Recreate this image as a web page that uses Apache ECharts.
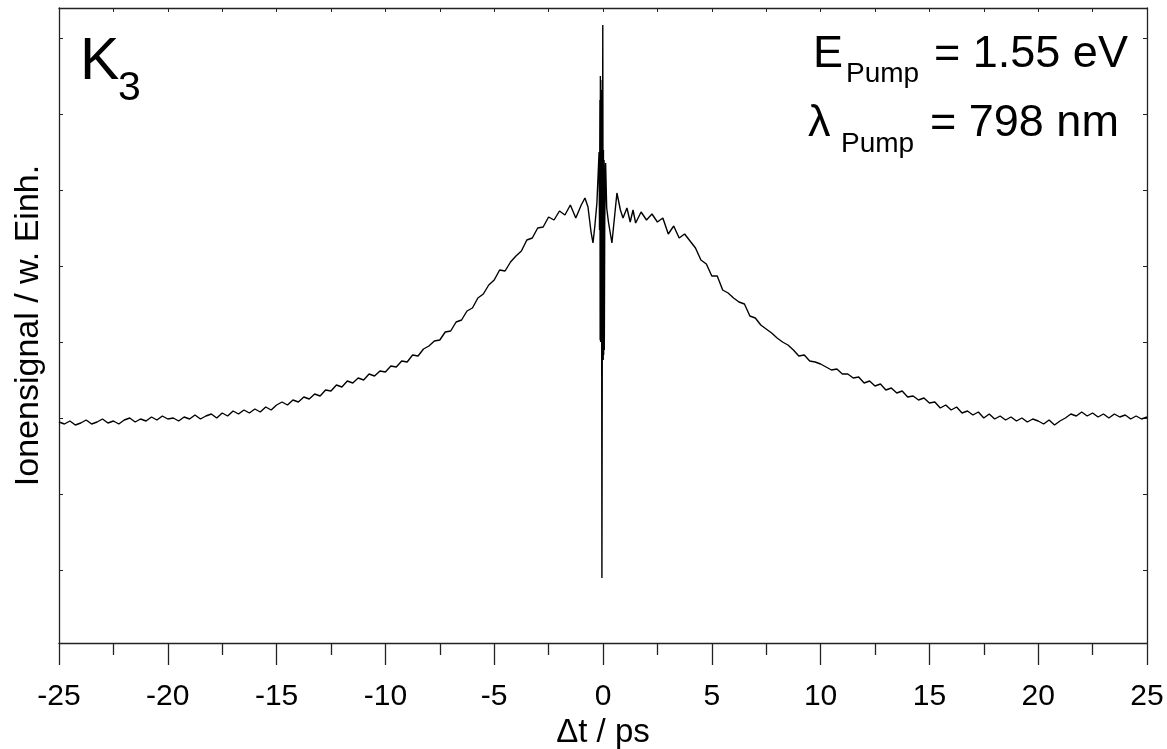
<!DOCTYPE html>
<html>
<head>
<meta charset="utf-8">
<script src="https://cdn.jsdelivr.net/npm/echarts@6/dist/echarts.min.js"></script>
<style>
  html, body { margin: 0; padding: 0; background: #fff; }
  #main { width: 1167px; height: 749px; }
</style>
</head>
<body>
<div id="main"></div>
<script>
// delay time (ps) / ion signal (arb. units)
const leftWing = [
  [-25, 221], [-24.75, 219], [-24.5, 222], [-24.25, 218], [-24, 220], [-23.75, 223], [-23.5, 219], [-23.25, 221],
  [-23, 224], [-22.75, 220], [-22.5, 222], [-22.25, 219], [-22, 223], [-21.75, 225], [-21.5, 221], [-21.25, 224],
  [-21, 222], [-20.75, 226], [-20.5, 223], [-20.25, 227], [-20, 224], [-19.75, 225], [-19.5, 222], [-19.25, 226],
  [-19, 224], [-18.75, 228], [-18.5, 224], [-18.25, 227], [-18, 229], [-17.75, 225], [-17.5, 230], [-17.25, 227],
  [-17, 232], [-16.75, 229], [-16.5, 233], [-16.25, 230], [-16, 234], [-15.75, 231], [-15.5, 236], [-15.25, 233],
  [-15, 238], [-14.75, 241], [-14.5, 238], [-14.25, 243], [-14, 241], [-13.75, 246], [-13.5, 244], [-13.25, 249],
  [-13, 247], [-12.75, 253], [-12.5, 252], [-12.25, 258], [-12, 256], [-11.75, 262], [-11.5, 260], [-11.25, 265],
  [-11, 263], [-10.75, 269], [-10.5, 267], [-10.25, 272], [-10, 271], [-9.75, 277], [-9.5, 276], [-9.25, 282],
  [-9, 281], [-8.75, 288], [-8.5, 287], [-8.25, 294], [-8, 297], [-7.75, 302], [-7.5, 303], [-7.25, 311],
  [-7, 312], [-6.75, 321], [-6.5, 323], [-6.25, 332], [-6, 335], [-5.75, 345], [-5.5, 349], [-5.25, 358],
  [-5, 363], [-4.75, 373], [-4.5, 372], [-4.25, 381], [-4, 387], [-3.75, 392], [-3.5, 403], [-3.25, 405],
  [-3, 415], [-2.75, 416], [-2.5, 426], [-2.25, 423], [-2, 432], [-1.75, 428], [-1.5, 438], [-1.25, 425]
];

// coherent artefact around zero delay
const centre = [
  [-1.0, 438], [-0.83, 445], [-0.69, 436], [-0.55, 411], [-0.46, 400], [-0.37, 418], [-0.28, 440], [-0.23, 438],
  [-0.18, 491], [-0.16, 413], [-0.14, 543], [-0.13, 303], [-0.12, 567], [-0.11, 301], [-0.10, 563], [-0.09, 305],
  [-0.08, 553], [-0.06, 313], [-0.05, 65], [-0.03, 343], [-0.01, 618], [0.01, 283], [0.02, 493], [0.03, 288],
  [0.05, 483], [0.06, 293], [0.08, 423], [0.12, 480], [0.17, 435], [0.25, 421], [0.41, 400], [0.5, 400],
  [0.64, 450], [0.8, 433], [0.92, 425], [1.1, 435]
];

const rightWing = [
  [1.25, 421], [1.38, 433], [1.5, 420], [1.75, 431], [2, 423], [2.25, 429], [2.5, 421], [2.75, 425],
  [3, 409], [3.25, 417], [3.5, 405], [3.75, 409], [4, 402], [4.25, 395], [4.5, 383], [4.75, 379],
  [5, 367], [5.25, 367], [5.5, 353], [5.75, 350], [6, 345], [6.25, 341], [6.5, 339], [6.75, 327],
  [7, 325], [7.25, 318], [7.5, 314], [7.75, 310], [8, 305], [8.25, 301], [8.5, 298], [8.75, 293],
  [9, 287], [9.25, 288], [9.5, 282], [9.75, 281], [10, 279], [10.25, 276], [10.5, 273], [10.75, 274],
  [11, 269], [11.25, 269], [11.5, 265], [11.75, 266], [12, 260], [12.25, 262], [12.5, 257], [12.75, 259],
  [13, 253], [13.25, 255], [13.5, 250], [13.75, 252], [14, 246], [14.25, 247], [14.5, 243], [14.75, 245],
  [15, 240], [15.25, 241], [15.5, 235], [15.75, 238], [16, 233], [16.25, 236], [16.5, 230], [16.75, 232],
  [17, 228], [17.25, 231], [17.5, 225], [17.75, 229], [18, 224], [18.25, 227], [18.5, 223], [18.75, 226],
  [19, 222], [19.25, 225], [19.5, 221], [19.75, 224], [20, 222], [20.25, 219], [20.5, 223], [20.75, 218],
  [21, 222], [21.25, 225], [21.5, 229], [21.75, 227], [22, 231], [22.25, 227], [22.5, 230], [22.75, 226],
  [23, 229], [23.25, 225], [23.5, 229], [23.75, 226], [24, 228], [24.25, 224], [24.5, 227], [24.75, 224],
  [25, 226]
];

// unlabeled y tick positions (signal units)
const yTicks = [73, 149, 225, 301, 377, 453, 529, 605];

const FONT = 'Liberation Sans, Arial, sans-serif';

const chart = echarts.init(document.getElementById('main'));

const axisLine = { show: true, onZero: false, lineStyle: { color: '#222', width: 1.3 } };
const smallTick = { color: '#222', width: 1 };

const option = {
  animation: false,
  backgroundColor: '#fff',
  grid: { left: 59, right: 20, top: 8, bottom: 106, containLabel: false, outerBoundsMode: 'none' },
  xAxis: [
    {
      type: 'value',
      min: -25,
      max: 25,
      interval: 5,
      position: 'bottom',
      axisLine: axisLine,
      axisTick: { inside: false, length: 22, lineStyle: { color: '#222', width: 1.3 } },
      minorTick: { show: true, splitNumber: 2, length: 12, lineStyle: { color: '#222', width: 1.3 } },
      splitLine: { show: false },
      minorSplitLine: { show: false },
      axisLabel: { fontFamily: FONT, fontSize: 30, color: '#000', margin: 39 },
      name: 'Δt / ps',
      nameLocation: 'middle',
      nameGap: 73,
      nameTextStyle: { fontFamily: FONT, fontSize: 33, color: '#000' }
    },
    {
      type: 'value',
      min: -25,
      max: 25,
      interval: 2.5,
      position: 'top',
      axisLine: axisLine,
      axisTick: { inside: true, length: 4, lineStyle: smallTick },
      axisLabel: { show: false },
      splitLine: { show: false }
    }
  ],
  yAxis: [
    {
      type: 'value',
      min: 0,
      max: 635,
      position: 'left',
      axisLine: axisLine,
      axisTick: { inside: true, length: 4, customValues: yTicks, lineStyle: smallTick },
      axisLabel: { show: false },
      splitLine: { show: false },
      name: 'Ionensignal / w. Einh.',
      nameLocation: 'middle',
      nameGap: 13,
      nameTextStyle: { fontFamily: FONT, fontSize: 34, color: '#000' }
    },
    {
      type: 'value',
      min: 0,
      max: 635,
      position: 'right',
      axisLine: axisLine,
      axisTick: { inside: true, length: 4, customValues: yTicks, lineStyle: smallTick },
      axisLabel: { show: false },
      splitLine: { show: false }
    }
  ],
  graphic: [
    { type: 'text', x: 80, y: 63, style: { text: 'K', fontFamily: FONT, fontSize: 59, fill: '#000', verticalAlign: 'middle' } },
    { type: 'text', x: 118, y: 89, style: { text: '3', fontFamily: FONT, fontSize: 41, fill: '#000', verticalAlign: 'middle' } },
    { type: 'text', x: 813, y: 55, style: { text: 'E', fontFamily: FONT, fontSize: 45, fill: '#000', verticalAlign: 'middle' } },
    { type: 'text', x: 846, y: 74, style: { text: 'Pump', fontFamily: FONT, fontSize: 28, fill: '#000', verticalAlign: 'middle' } },
    { type: 'text', x: 934, y: 55, style: { text: '= 1.55 eV', fontFamily: FONT, fontSize: 45, fill: '#000', verticalAlign: 'middle' } },
    { type: 'text', x: 808, y: 124, style: { text: 'λ', fontFamily: FONT, fontSize: 45, fill: '#000', verticalAlign: 'middle' } },
    { type: 'text', x: 841, y: 144, style: { text: 'Pump', fontFamily: FONT, fontSize: 28, fill: '#000', verticalAlign: 'middle' } },
    { type: 'text', x: 930, y: 124, style: { text: '= 798 nm', fontFamily: FONT, fontSize: 45, fill: '#000', verticalAlign: 'middle' } }
  ],
  series: [
    {
      type: 'line',
      xAxisIndex: 0,
      yAxisIndex: 0,
      data: leftWing.concat(centre, rightWing),
      showSymbol: false,
      symbol: 'none',
      smooth: false,
      lineStyle: { color: '#000', width: 1.4 },
      z: 3
    }
  ]
};

chart.setOption(option);
</script>
</body>
</html>
